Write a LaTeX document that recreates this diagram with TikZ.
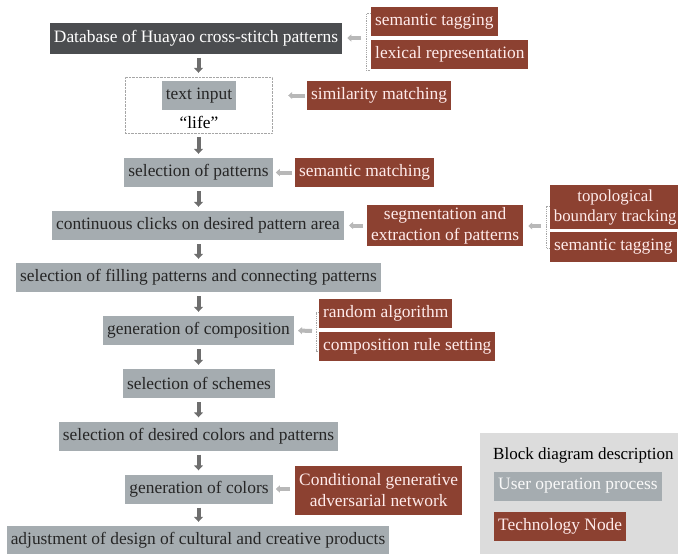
\documentclass[tikz,border=0pt]{standalone}
\usepackage{fontspec}
\setmainfont{Liberation Serif}
\usetikzlibrary{arrows.meta}
\definecolor{opgray}{HTML}{A5ACB0}
\definecolor{techred}{HTML}{8C4131}
\definecolor{dbdark}{HTML}{4B4D50}
\definecolor{legbg}{HTML}{DCDCDC}
\definecolor{downgray}{HTML}{6E6E6E}
\definecolor{feedgray}{HTML}{B8B8B8}
\begin{document}
\begin{tikzpicture}[x=1pt, y=-1pt, font=\fontsize{17.4}{21}\selectfont,
    op/.style={fill=opgray, text=black!85, inner xsep=4pt, inner ysep=0pt, minimum height=29pt},
    tech/.style={fill=techred, text=white!92!red, inner xsep=4pt, inner ysep=0pt, minimum height=29pt, anchor=west, align=center},
    down/.style={draw=downgray, line width=4pt, shorten <=4pt, shorten >=4pt, -{Triangle[width=9pt,length=5pt]}},
    feed/.style={draw=feedgray, line width=4pt, -{Triangle[width=7pt,length=4pt]}},
    brk/.style={draw=gray!70, densely dotted, line width=0.8pt}]
  \useasboundingbox (0,0) rectangle (678,554);
  % user operation chain
  \node[op, fill=dbdark, text=white, minimum height=31pt] (db) at (196,38) {Database of Huayao cross-stitch patterns};
  \node[draw=gray!70, densely dotted, minimum width=147pt, minimum height=56pt] (inbox) at (198.5,105) {};
  \node[op] (input) at (199,95.5) {text input};
  \node (life) at (199,122) {``life''};
  \node[op] (sel) at (198.5,172.5) {selection of patterns};
  \node[op] (clicks) at (198,225.5) {continuous clicks on desired pattern area};
  \node[op] (fill) at (198.5,277.5) {selection of filling patterns and connecting patterns};
  \node[op] (comp) at (198.5,330.5) {generation of composition};
  \node[op] (schemes) at (199,383.5) {selection of schemes};
  \node[op] (desired) at (198.5,436) {selection of desired colors and patterns};
  \node[op] (colors) at (199,489) {generation of colors};
  \node[op] (adjust) at (198,540.5) {adjustment of design of cultural and creative products};

  \draw[down] (db.south -| inbox) -- (inbox.north);
  \draw[down] (inbox.south) -- (inbox.south |- sel.north);
  \draw[down] (sel.south) -- (sel.south |- clicks.north);
  \draw[down] (sel.south |- clicks.south) -- (sel.south |- fill.north);
  \draw[down] (sel.south |- fill.south) -- (sel.south |- comp.north);
  \draw[down] (sel.south |- comp.south) -- (sel.south |- schemes.north);
  \draw[down] (sel.south |- schemes.south) -- (sel.south |- desired.north);
  \draw[down] (sel.south |- desired.south) -- (sel.south |- colors.north);
  \draw[down] (sel.south |- colors.south) -- (sel.south |- adjust.north);

  % technology nodes
  \node[tech] (tag1) at (371,21.5) {semantic tagging};
  \node[tech] (lex) at (371,54.5) {lexical representation};
  \node[tech] (sim) at (307,95.5) {similarity matching};
  \node[tech] (match) at (295,172.5) {semantic matching};
  \node[tech, minimum height=41pt] (seg) at (367,225.5) {segmentation and\\extraction of patterns};
  \node[tech, minimum height=44pt, inner xsep=3pt, minimum width=130pt, font=\fontsize{16.8}{20}\selectfont] (topo) at (550,207) {topological\\boundary tracking};
  \node[tech, minimum height=30pt] (tag2) at (550,247) {semantic tagging};
  \node[tech] (rand) at (319,313.5) {random algorithm};
  \node[tech] (rule) at (319,346.5) {composition rule setting};
  \node[tech, minimum height=49pt] (cgan) at (295,490.5) {Conditional generative\\adversarial network};

  \coordinate (b1) at (366,38);
  \coordinate (b2) at (546,226);
  \coordinate (b3) at (316,331);
  \draw[brk] (tag1.north west) ++(0,7) -| (b1) |- ([yshift=-1pt]lex.south west);
  \draw[brk] (topo.west |- 0,206) -| (b2) |- (tag2.west |- 0,248);
  \draw[brk] (rand.west |- 0,312) -| (b3) |- (rule.west |- 0,351);

  \draw[feed, shorten <=5pt, shorten >=5pt] (b1) -- (db.east);
  \draw[feed, shorten <=2pt, shorten >=16pt] (sim.west) -- (sim.west -| inbox.east);
  \draw[feed, shorten <=3pt, shorten >=3pt] (match.west) -- (sel.east);
  \draw[feed, shorten <=4pt, shorten >=5pt] (seg.west) -- (clicks.east);
  \draw[feed, shorten <=5pt, shorten >=5pt] (b2) -- (b2 -| seg.east);
  \draw[feed, shorten <=4pt, shorten >=4pt] (b3) -- (comp.east);
  \draw[feed, shorten <=5pt, shorten >=3pt] (colors.east -| cgan.west) -- (colors.east);

  % legend
  \fill[legbg] (480,433) rectangle (678,554);
  \node[anchor=west, inner sep=0pt, font=\fontsize{17}{20}\selectfont] (legtitle) at (493,455) {Block diagram description};
  \node[op, anchor=west, text=white!95!gray] (leguser) at (494,486) {User operation process};
  \node[tech] (legtech) at (494,526.5) {Technology Node};
\end{tikzpicture}
\end{document}
